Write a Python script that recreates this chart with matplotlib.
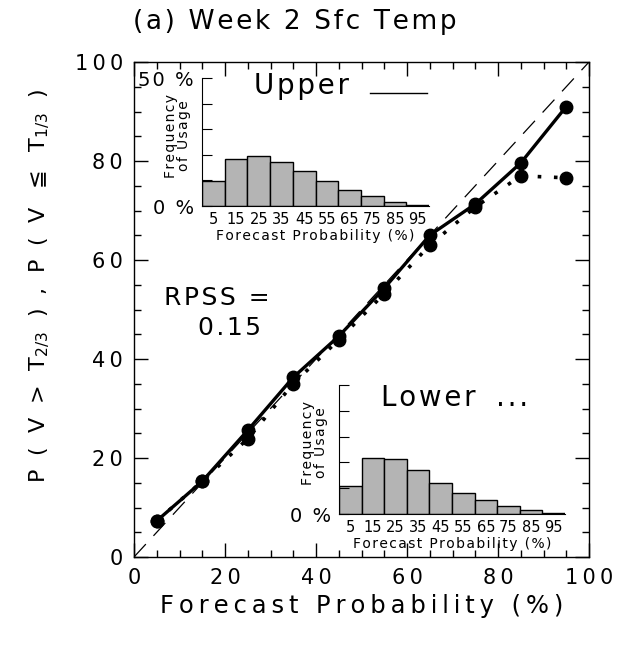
import matplotlib
matplotlib.use("Agg")
import matplotlib.pyplot as plt
from matplotlib.ticker import MultipleLocator, FuncFormatter

# reliability data (forecast probability bins, %)
prob_bins = [5, 15, 25, 35, 45, 55, 65, 75, 85, 95]
obs_upper = [7.3, 15.3, 25.6, 36.3, 44.6, 54.3, 65.0, 71.3, 79.6, 91.0]
obs_lower = [7.3, 15.3, 23.9, 35.0, 43.9, 53.2, 63.0, 70.7, 77.0, 76.6]

# frequency of usage (%)
freq_upper = [9.7, 18.2, 19.6, 17.3, 13.5, 9.7, 6.2, 3.8, 1.6, 0.4]
freq_lower = [10.9, 21.6, 21.2, 17.1, 12.1, 8.0, 5.3, 3.1, 1.4, 0.4]
bin_labels = ["5", "15", "25", "35", "45", "55", "65", "75", "85", "95"]

rpss = 0.15

plt.rcParams["font.family"] = ["DejaVu Sans"]

fig = plt.figure(figsize=(6.24, 6.53), dpi=100)
W, H = 624, 653
THIN = "\u2009"
HAIR = "\u200a"


def track(s, sp=HAIR):
    # wide letter spacing like the old plotting fonts
    return sp.join(s)


def box(l, t, r, b):
    return [l / W, 1 - b / H, (r - l) / W, (b - t) / H]


ax = fig.add_axes(box(134, 62, 589, 557))
ax.plot([0, 100], [0, 100], color="black", lw=0.9, dashes=(14, 9))
ax.plot(prob_bins, obs_upper, color="black", lw=2.4, marker="o", ms=9)
ax.plot(prob_bins, obs_lower, color="black", lw=2.6, ls=(0, (1, 3.5)),
        marker="o", ms=9)
ax.set_xlim(0, 100)
ax.set_ylim(0, 100)
ax.xaxis.set_major_locator(MultipleLocator(20))
ax.yaxis.set_major_locator(MultipleLocator(20))
ax.xaxis.set_minor_locator(MultipleLocator(5))
ax.yaxis.set_minor_locator(MultipleLocator(5))
fmt = FuncFormatter(lambda v, p: track(f"{v:.0f}", HAIR + HAIR))
ax.xaxis.set_major_formatter(fmt)
ax.yaxis.set_major_formatter(fmt)
ax.tick_params(which="both", direction="in", top=True, right=True,
               labelsize=15, width=1)
ax.tick_params(which="major", length=10, pad=8)
ax.tick_params(which="minor", length=5)
for s in ax.spines.values():
    s.set_linewidth(1)
ax.set_xlabel(track("Forecast Probability (%)", THIN), fontsize=17.5,
              labelpad=4)

ylab = (r"P  (  V  >  T$_{2/3}$  )  ,  P  (  V  $\leqq$  T$_{1/3}$  )")
fig.text(0.064, 0.562, ylab, rotation=90, ha="center", va="center",
         fontsize=16)
fig.text(295 / W, 1 - 22 / H, track("(a) Week 2 Sfc Temp"), ha="center",
         va="center", fontsize=19)
fig.text(217 / W, 1 - 298 / H, track("RPSS ="), ha="center",
         va="center", fontsize=18)
fig.text(230 / W, 1 - 328 / H, track(f"{rpss:.2f}"), ha="center",
         va="center", fontsize=18)


def inset(rect, freqs, toplabel):
    a = fig.add_axes(rect)
    a.patch.set_alpha(0)
    a.bar(prob_bins, freqs, width=10, color="#b4b4b4", edgecolor="black",
          lw=1)
    a.set_xlim(0, 100)
    a.set_ylim(0, 50)
    a.set_xticks(prob_bins)
    a.set_xticklabels(bin_labels, fontsize=10.5)
    a.tick_params(axis="x", length=0, pad=4)
    a.set_yticks([0, 10, 20, 30, 40, 50])
    a.set_yticklabels([track("0 %"), "", "", "", "", track(toplabel)],
                      fontsize=14)
    a.tick_params(axis="y", direction="in", length=7, pad=6)
    a.spines["top"].set_visible(False)
    a.spines["right"].set_visible(False)
    a.set_xlabel(track("Forecast Probability (%)"), fontsize=10,
                 labelpad=2)
    a.set_ylabel(track("Frequency") + "\n" + track("of Usage"),
                 fontsize=10, linespacing=0.85)
    a.yaxis.set_label_coords(-0.05, 0.55)
    return a


up = inset(box(202, 78, 429, 206), freq_upper, "50 %")
up.text(0.44, 0.94, track("Upper"), transform=up.transAxes, ha="center",
        va="center", fontsize=20)
up.plot([0.74, 0.99], [0.88, 0.88], transform=up.transAxes, color="black",
        lw=1, clip_on=False)

lo = inset(box(339, 385, 565, 514), freq_lower, "")
lo.text(0.395, 0.9, track("Lower"), transform=lo.transAxes, ha="center",
        va="center", fontsize=20)
lo.text(0.765, 0.9, track("..."), transform=lo.transAxes,
        ha="center", va="center", fontsize=20)

fig.savefig("out.png", dpi=100)
